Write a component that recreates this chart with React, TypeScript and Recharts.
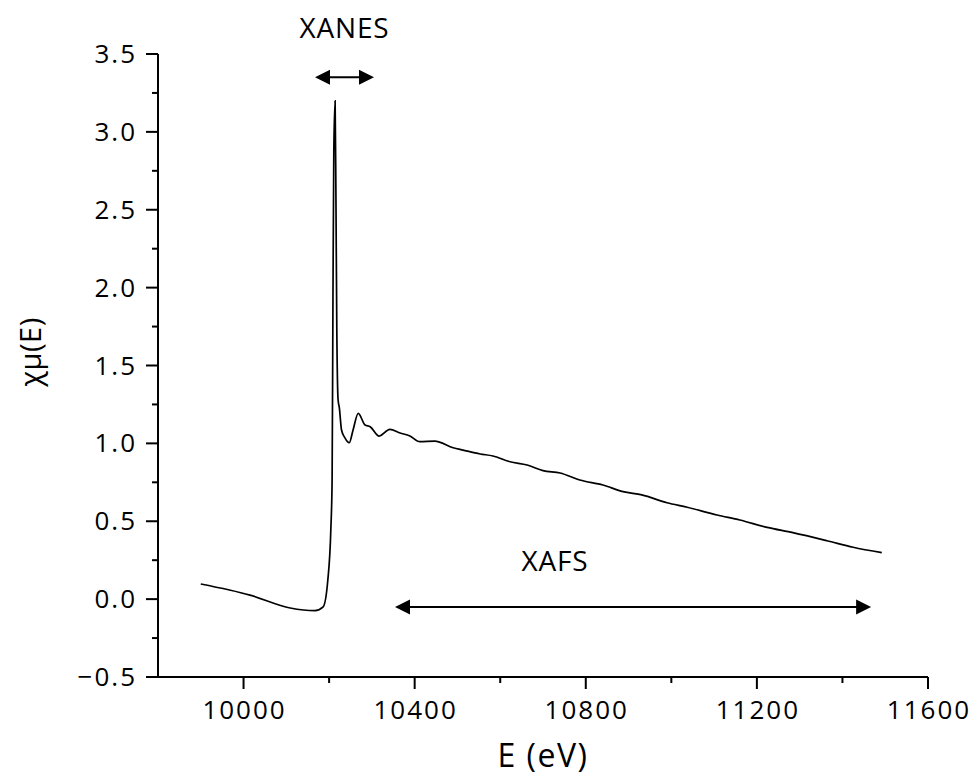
import { LineChart, Line, XAxis, YAxis, ReferenceLine, Label } from "recharts";

const energy = [
  9900, 10015, 10109, 10167, 10186, 10197, 10204, 10207, 10209, 10211, 10214, 10216, 10218, 10221,
  10224, 10229, 10237, 10247, 10256, 10268, 10284, 10296, 10317, 10342, 10366, 10389, 10412, 10447,
  10490, 10513, 10553, 10583, 10623, 10663, 10700, 10740, 10786, 10840, 10887, 10931, 10990, 11037,
  11107, 11160, 11224, 11284, 11364, 11425, 11492,
];
const mu = [
  0.097, 0.026, -0.057, -0.074, -0.05, 0.123, 0.444, 0.765, 1.92, 2.88, 3.2, 2.56, 1.73, 1.28,
  1.227, 1.086, 1.035, 1.004, 1.086, 1.193, 1.118, 1.107, 1.047, 1.09, 1.067, 1.047, 1.011, 1.015,
  0.972, 0.957, 0.932, 0.919, 0.882, 0.861, 0.825, 0.81, 0.765, 0.733, 0.69, 0.669, 0.619, 0.59,
  0.54, 0.508, 0.461, 0.427, 0.375, 0.333, 0.298,
];
const xTicks = [10000, 10200, 10400, 10600, 10800, 11000, 11200, 11400, 11600];
const yTicks = [-0.5, -0.25, 0, 0.25, 0.5, 0.75, 1, 1.25, 1.5, 1.75, 2, 2.25, 2.5, 2.75, 3, 3.25, 3.5];
const xanes = [10167, 10305];
const xafs = [10354, 11467];

const data = energy.map((e, i) => ({ e, mu: mu[i] }));

const font = "'Open Sans', sans-serif";

function XTick({ x, y, payload }: any) {
  const major = payload.value % 400 === 0;
  return (
    <g>
      <line x1={x} x2={x} y1={y} y2={y + (major ? 12 : 6)} stroke="#000" strokeWidth={2} />
      {major && (
        <text x={x + 1} y={y + 42} textAnchor="middle" fontSize={26} fontFamily={font} fill="#000" letterSpacing={2}>
          {payload.value}
        </text>
      )}
    </g>
  );
}

function YTick({ x, y, payload }: any) {
  const v = payload.value;
  const major = Math.abs(v * 2 - Math.round(v * 2)) < 1e-6;
  const txt = v < 0 ? "\u2212" + Math.abs(v).toFixed(1) : v.toFixed(1);
  return (
    <g>
      <line x1={x - (major ? 12 : 6)} x2={x} y1={y} y2={y} stroke="#000" strokeWidth={2} />
      {major && (
        <text x={x - 21} y={y + 9} textAnchor="end" fontSize={26} fontFamily={font} fill="#000" letterSpacing={2}>
          {txt}
        </text>
      )}
    </g>
  );
}

function arrow(text: string, dx: number, dy: number) {
  return (p: any) => {
    const { x1, y1, x2 } = p;
    const h = 15, w = 7.5;
    return (
      <g>
        <line x1={x1 + h - 1} x2={x2 - h + 1} y1={y1} y2={y1} stroke="#000" strokeWidth={2} />
        <polygon points={`${x1},${y1} ${x1 + h},${y1 - w} ${x1 + h},${y1 + w}`} fill="#000" />
        <polygon points={`${x2},${y1} ${x2 - h},${y1 - w} ${x2 - h},${y1 + w}`} fill="#000" />
        <text x={(x1 + x2) / 2 + dx} y={y1 + dy} textAnchor="middle" fontSize={28} fontFamily={font} fill="#000" letterSpacing={0.8}>
          {text}
        </text>
      </g>
    );
  };
}

export default function App() {
  return (
    <div style={{ position: "absolute", left: 0, top: 0, width: 973, height: 778, background: "#fff" }}>
      <LineChart width={973} height={778} data={data} margin={{ top: 54, right: 45, bottom: 41, left: 58 }}>
        <XAxis
          dataKey="e"
          type="number"
          domain={[9800, 11600]}
          ticks={xTicks}
          interval={0}
          tickSize={0}
          tickMargin={0}
          height={60}
          axisLine={{ stroke: "#000", strokeWidth: 2 }}
          tick={<XTick />}
        >
          <Label
            content={() => (
              <text x={543} y={767} textAnchor="middle" fontSize={32} fontFamily={font} fill="#000" letterSpacing={1.5}>
                E (eV)
              </text>
            )}
          />
        </XAxis>
        <YAxis
          type="number"
          domain={[-0.5, 3.5]}
          ticks={yTicks}
          interval={0}
          tickSize={0}
          tickMargin={0}
          width={100}
          axisLine={{ stroke: "#000", strokeWidth: 2 }}
          tick={<YTick />}
        >
          <Label
            content={() => (
              <text
                x={41}
                y={352}
                transform="rotate(-90 41 352)"
                textAnchor="middle"
                fontSize={29}
                fontFamily={font}
                fill="#000"
                letterSpacing={0.5}
              >
                χμ(E)
              </text>
            )}
          />
        </YAxis>
        <Line
          type="monotone"
          dataKey="mu"
          stroke="#000"
          strokeWidth={1.7}
          dot={false}
          activeDot={false}
          isAnimationActive={false}
        />
        <ReferenceLine
          segment={[{ x: xanes[0], y: 3.35 }, { x: xanes[1], y: 3.35 }]}
          shape={arrow("XANES", 0, -39)}
          ifOverflow="visible"
        />
        <ReferenceLine
          segment={[{ x: xafs[0], y: -0.05 }, { x: xafs[1], y: -0.05 }]}
          shape={arrow("XAFS", -78, -36)}
          ifOverflow="visible"
        />
      </LineChart>
    </div>
  );
}
